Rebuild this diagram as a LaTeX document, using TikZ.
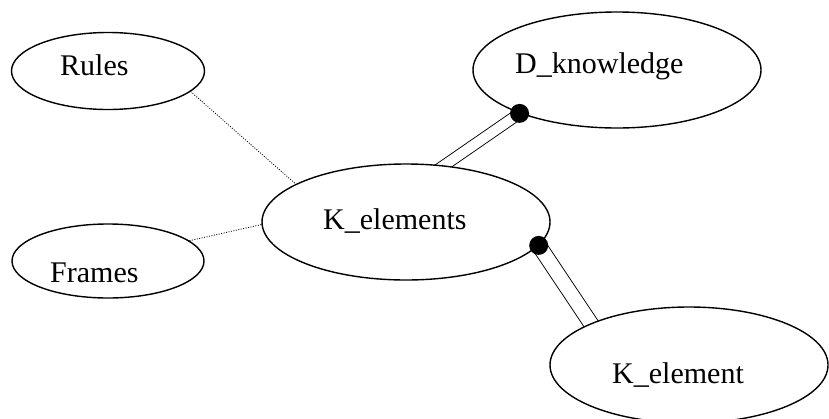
\documentclass[tikz,border=0pt]{standalone}
\usepackage{fontspec}
\setmainfont{Liberation Serif}
\usetikzlibrary{shapes.geometric}
\pgfdeclarelayer{bg}
\pgfsetlayers{bg,main}
\begin{document}
\begin{tikzpicture}[x=1pt,y=-1pt,
    blob/.style={draw,fill=white,ellipse,line width=1.4pt,inner sep=0pt},
    word/.style={anchor=base west,inner sep=0pt,font=\fontsize{30}{36}\selectfont},
    link/.style={line width=0.8pt,dash pattern=on 1pt off 1.5pt},
    twin/.style={double,line width=0.9pt,double distance=#1}]
    \useasboundingbox (0,0) rectangle (829,418);
    \node[blob,minimum width=193pt,minimum height=77pt] (rules) at (108,71) {};
    \node[blob,minimum width=192pt,minimum height=74pt] (frames) at (108,261) {};
    \node[blob,minimum width=288pt,minimum height=116pt] (dk) at (617,70) {};
    \node[blob,minimum width=288pt,minimum height=116pt] (kels) at (406,222) {};
    \node[blob,minimum width=278pt,minimum height=116pt] (kel) at (689,365) {};
    \node[word] (rules-t) at (60,75) {Rules};
    \node[word] (frames-t) at (50,282) {Frames};
    \node[word] (dk-t) at (515,73) {D\_knowledge};
    \node[word] (kels-t) at (323,229) {K\_elements};
    \node[word] (kel-t) at (612,383) {K\_element};
    \begin{pgfonlayer}{bg}
      \draw[link] (rules.-14) -- (kels.161);
      \draw[link] (frames.14) -- (kels.181);
      \draw[twin=10pt,shorten <=-8pt] (kels.56) -- (dk.-156);
      \draw[twin=14pt,shorten >=-8pt] (kels.-10.5) -- (kel.157);
    \end{pgfonlayer}
    \fill (dk.-156) circle (9.5pt);
    \fill (kels.-10.5) circle (9.5pt);
  \end{tikzpicture}
\end{document}
